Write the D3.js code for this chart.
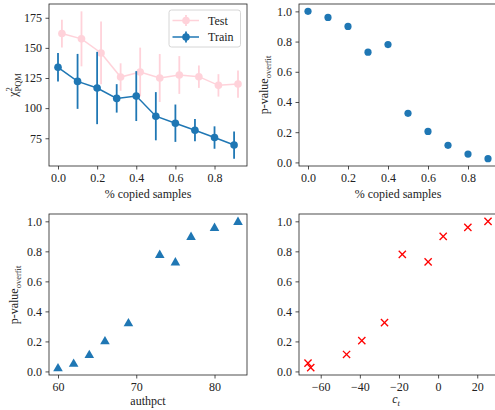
<!DOCTYPE html>
<html><head><meta charset="utf-8">
<script src="https://cdn.jsdelivr.net/npm/d3@7"></script>
<style>
body{margin:0;background:#fff;}
svg text{font-family:"Liberation Serif","Times New Roman","DejaVu Serif",serif !important;fill:#222;}
</style></head>
<body><svg id="c" width="495" height="410"></svg>
<script>
// ---- data ----
const copied = [0.0,0.1,0.2,0.3,0.4,0.5,0.6,0.7,0.8,0.9];
const copiedTest = [0.02,0.12,0.22,0.32,0.42,0.52,0.62,0.72,0.82,0.92];
const trainChi = [133.9,122.2,116.7,108.1,110.0,93.3,87.5,81.7,75.6,69.4];
const trainErr = [11.8,22.8,30.0,11.8,20.7,20.0,15.5,9.2,9.3,11.3];
const testChi = [161.9,157.5,145.8,125.8,130.0,125.0,127.5,126.1,118.9,120.0];
const testErr = [11.5,22.8,26.0,11.4,20.2,19.9,15.7,9.3,9.3,11.3];
const pval = [1.0,0.96,0.90,0.73,0.78,0.325,0.205,0.113,0.055,0.025];
const authpct = [83,80,77,75,73,69,66,64,62,60];
const ct = [25.5,15.2,2.6,-5.1,-18.3,-27.4,-39.0,-46.8,-66.5,-65.1];
const xTicksCopied = [0.0,0.2,0.4,0.6,0.8];
const yTicksChi = [75,100,125,150,175];
const yTicksP = [0.0,0.2,0.4,0.6,0.8,1.0];
const xTicksAuth = [60,70,80];
const xTicksCt = [-60,-40,-20,0,20];

const svg = d3.select("#c");
const blue = "#1f77b4";
const pink = "#ffc0cb";
const FS = "12px", SUB = "8.5px";

function pad(ext){const r=ext[1]-ext[0];return [ext[0]-0.05*r, ext[1]+0.05*r];}

function panel(L,T,W,H,xdom,ydom,xt,yt,xfmt,yfmt){
  const g = svg.append("g").attr("transform",`translate(${L},${T})`);
  const x = d3.scaleLinear().domain(xdom).range([0,W]);
  const y = d3.scaleLinear().domain(ydom).range([H,0]);
  const xa = g.append("g").attr("transform",`translate(0,${H})`)
    .call(d3.axisBottom(x).tickValues(xt).tickFormat(xfmt).tickSizeOuter(0).tickSize(3.5).tickPadding(3.5));
  const ya = g.append("g")
    .call(d3.axisLeft(y).tickValues(yt).tickFormat(yfmt).tickSizeOuter(0).tickSize(3.5).tickPadding(3.5));
  [xa,ya].forEach(a=>{a.attr("font-family",null);a.select(".domain").remove();
    a.selectAll("line").attr("stroke","#222").attr("stroke-width",0.8);
    a.selectAll("text").style("font-size",FS).attr("fill","#222");});
  const plot = g.append("g");
  g.append("rect").attr("width",W).attr("height",H).attr("fill","none").attr("stroke","#222").attr("stroke-width",0.8);
  return {g,x,y,plot};
}

// ---- top-left ----
{
  const ylo = d3.min(trainChi.map((v,i)=>v-trainErr[i]));
  const yhi = d3.max(testChi.map((v,i)=>v+testErr[i]));
  const p = panel(49,4,198,162,pad([0,0.92]),pad([ylo,yhi]),xTicksCopied,yTicksChi,d3.format(".1f"),d3.format("d"));
  const {x,y,plot} = p;
  function series(xs,vs,es,col,op){
    const s = plot.append("g").attr("opacity",op);
    s.selectAll("line.e").data(xs).join("line").attr("x1",d=>x(d)).attr("x2",d=>x(d))
      .attr("y1",(d,i)=>y(vs[i]-es[i])).attr("y2",(d,i)=>y(vs[i]+es[i])).attr("stroke",col).attr("stroke-width",1.8);
    s.append("path").attr("d",d3.line().x((d,i)=>x(xs[i])).y((d,i)=>y(vs[i]))(xs))
      .attr("fill","none").attr("stroke",col).attr("stroke-width",1.5);
    s.selectAll("circle").data(xs).join("circle").attr("cx",d=>x(d)).attr("cy",(d,i)=>y(vs[i])).attr("r",3.8).attr("fill",col);
  }
  series(copiedTest,testChi,testErr,pink,0.7);
  series(copied,trainChi,trainErr,blue,1);
  // legend
  const lg = p.g.append("g").attr("transform","translate(120,6)");
  lg.append("rect").attr("width",71.5).attr("height",37).attr("rx",2.5).attr("fill","#fff").attr("fill-opacity",0.8).attr("stroke","#ccc").attr("stroke-width",0.8);
  const ents = [["Test",pink,0.7],["Train",blue,1]];
  ents.forEach((e,i)=>{
    const yy = 10.5+i*16.5;
    const h = lg.append("g").attr("opacity",e[2]);
    h.append("line").attr("x1",3.5).attr("x2",30).attr("y1",yy).attr("y2",yy).attr("stroke",e[1]).attr("stroke-width",1.5);
    h.append("line").attr("x1",17).attr("x2",17).attr("y1",yy-5.5).attr("y2",yy+5.5).attr("stroke",e[1]).attr("stroke-width",1.8);
    h.append("circle").attr("cx",17).attr("cy",yy).attr("r",3.8).attr("fill",e[1]);
    lg.append("text").attr("x",39).attr("y",yy+4).style("font-size",FS).text(e[0]);
  });
  // axis labels
  svg.append("text").attr("x",148).attr("y",198).attr("text-anchor","middle").style("font-size",FS).text("% copied samples");
  const yl = svg.append("text").attr("transform","translate(17,85) rotate(-90)").attr("text-anchor","middle").style("font-size",FS);
  yl.append("tspan").text("χ");
  yl.append("tspan").attr("dy",-5).style("font-size",SUB).text("2");
  yl.append("tspan").attr("dx",-4.3).attr("dy",8.5).style("font-size",SUB).text("PQM");
}

// ---- top-right ----
{
  const p = panel(299,4,198,162,pad([0,0.9]),pad([0.025,1.0]),xTicksCopied,yTicksP,d3.format(".1f"),d3.format(".1f"));
  p.plot.selectAll("circle").data(copied).join("circle").attr("cx",d=>p.x(d)).attr("cy",(d,i)=>p.y(pval[i])).attr("r",3.6).attr("fill",blue);
  svg.append("text").attr("x",398).attr("y",198).attr("text-anchor","middle").style("font-size",FS).text("% copied samples");
  const yl = svg.append("text").attr("transform","translate(268,85) rotate(-90)").attr("text-anchor","middle").style("font-size",FS);
  yl.append("tspan").text("p-value");
  yl.append("tspan").attr("dy",3).style("font-size",SUB).text("overfit");
}

// ---- bottom-left ----
{
  const p = panel(49,214,198,161,pad(d3.extent(authpct)),pad([0.025,1.0]),xTicksAuth,yTicksP,d3.format("d"),d3.format(".1f"));
  const tri = d3.symbol().type(d3.symbolTriangle).size(40);
  p.plot.selectAll("path").data(authpct).join("path").attr("d",tri)
    .attr("transform",(d,i)=>`translate(${p.x(d)},${p.y(pval[i])+0.8})`).attr("fill",blue);
  svg.append("text").attr("x",148).attr("y",405).attr("text-anchor","middle").style("font-size",FS).text("authpct");
  const yl = svg.append("text").attr("transform","translate(18,295) rotate(-90)").attr("text-anchor","middle").style("font-size",FS);
  yl.append("tspan").text("p-value");
  yl.append("tspan").attr("dy",3).style("font-size",SUB).text("overfit");
}

// ---- bottom-right ----
{
  const p = panel(299,214,198,161,pad(d3.extent(ct)),pad([0.025,1.0]),xTicksCt,yTicksP,d3.format("d"),d3.format(".1f"));
  const s = 3.6;
  const gx = p.plot.selectAll("g").data(ct).join("g").attr("transform",(d,i)=>`translate(${p.x(d)},${p.y(pval[i])})`);
  gx.append("line").attr("x1",-s).attr("y1",-s).attr("x2",s).attr("y2",s).attr("stroke","red").attr("stroke-width",1.3);
  gx.append("line").attr("x1",-s).attr("y1",s).attr("x2",s).attr("y2",-s).attr("stroke","red").attr("stroke-width",1.3);
  const xl = svg.append("text").attr("x",396).attr("y",403).attr("text-anchor","middle").style("font-size",FS);
  xl.append("tspan").style("font-style","italic").text("c");
  xl.append("tspan").attr("dy",2.5).style("font-size",SUB).style("font-style","italic").text("t");
}
</script></body></html>
